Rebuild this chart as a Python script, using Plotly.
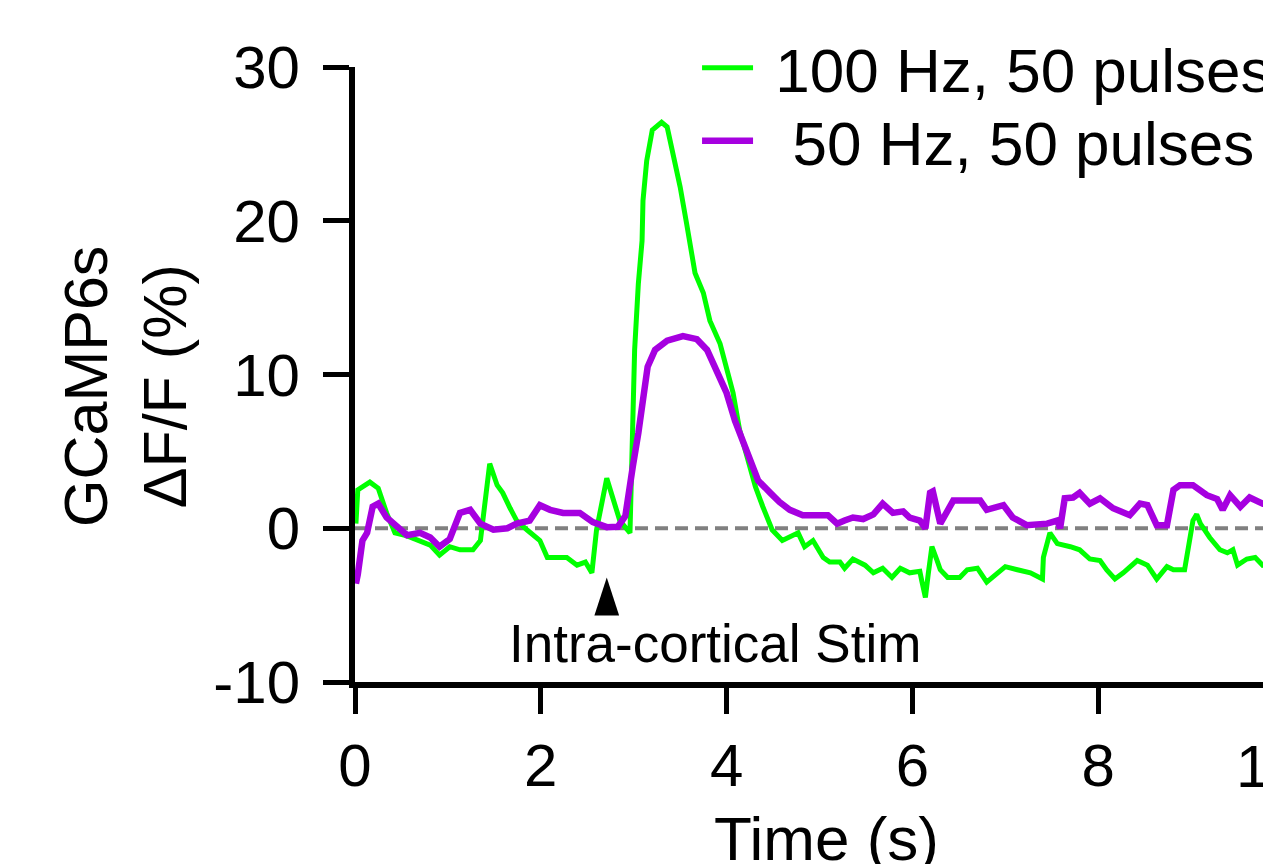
import plotly.graph_objects as go

# ---- data ----
time_100hz = [0.01, 0.03, 0.16, 0.25, 0.34, 0.43, 0.56, 0.70, 0.81, 0.91, 1.02, 1.13, 1.27, 1.35, 1.39,
              1.45, 1.53, 1.59, 1.67, 1.74, 1.85, 1.99, 2.07, 2.28, 2.39, 2.48, 2.55, 2.60, 2.71, 2.78,
              2.85, 2.96, 2.98, 2.99, 3.01, 3.05, 3.09, 3.10, 3.14, 3.20, 3.25, 3.30, 3.36, 3.42, 3.50,
              3.57, 3.63, 3.66, 3.75, 3.82, 3.93, 4.00, 4.07, 4.14, 4.22, 4.31, 4.39, 4.49, 4.60, 4.77,
              4.84, 4.93, 5.04, 5.11, 5.22, 5.27, 5.36, 5.49, 5.58, 5.68, 5.78, 5.87, 5.97, 6.08, 6.10,
              6.14, 6.17, 6.21, 6.26, 6.30, 6.38, 6.51, 6.59, 6.70, 6.80, 6.91, 7.00, 7.13, 7.27, 7.40,
              7.41, 7.48, 7.56, 7.70, 7.80, 7.91, 8.02, 8.09, 8.18, 8.27, 8.42, 8.53, 8.63, 8.74, 8.81,
              8.93, 8.97, 9.02, 9.06, 9.10, 9.20, 9.31, 9.39, 9.45, 9.50, 9.60, 9.69, 9.77, 9.85]
dff_100hz = [0.3, 2.5, 3.0, 2.6, 1.0, -0.3, -0.5, -0.8, -1.1, -1.75, -1.2, -1.4, -1.4, -0.8, 1.5,
             4.2, 2.8, 2.3, 1.3, 0.5, -0.1, -0.8, -1.9, -1.9, -2.4, -2.2, -2.9, -0.1, 3.25, 1.8,
             0.5, -0.3, 4.0, 8.3, 11.6, 15.9, 18.7, 21.3, 23.9, 25.9, 26.2, 26.4, 26.1, 24.4, 22.2,
             19.8, 17.9, 16.6, 15.3, 13.5, 12.0, 10.5, 8.8, 6.4, 4.6, 2.7, 1.4, -0.1, -0.8, -0.3,
             -1.2, -0.8, -1.9, -2.2, -2.2, -2.6, -2.0, -2.4, -2.9, -2.6, -3.2, -2.6, -2.9, -2.8, -3.4,
             -4.5, -3.0, -1.2, -2.0, -2.7, -3.2, -3.2, -2.7, -2.6, -3.5, -2.9, -2.5, -2.7, -2.9, -3.3,
             -1.9, -0.3, -1.0, -1.2, -1.4, -2.0, -2.1, -2.7, -3.3, -2.9, -2.1, -2.4, -3.3, -2.5, -2.7,
             -2.7, -1.2, 0.5, 0.9, 0.3, -0.6, -1.4, -1.6, -1.4, -2.4, -2.0, -1.9, -2.4, -2.3]

time_50hz = [0.01, 0.03, 0.08, 0.13, 0.19, 0.25, 0.34, 0.45, 0.56, 0.70, 0.81, 0.91, 1.02, 1.13, 1.24,
             1.35, 1.49, 1.64, 1.74, 1.88, 1.99, 2.10, 2.24, 2.42, 2.56, 2.71, 2.83, 2.91, 2.96, 2.99,
             3.05, 3.10, 3.15, 3.23, 3.36, 3.53, 3.68, 3.79, 3.90, 4.00, 4.09, 4.18, 4.25, 4.34, 4.47,
             4.57, 4.68, 4.82, 5.09, 5.19, 5.27, 5.36, 5.47, 5.58, 5.68, 5.79, 5.90, 5.97, 6.08, 6.14,
             6.19, 6.22, 6.30, 6.44, 6.73, 6.80, 6.98, 7.08, 7.23, 7.45, 7.56, 7.59, 7.64, 7.73, 7.80,
             7.91, 8.02, 8.16, 8.34, 8.45, 8.53, 8.63, 8.74, 8.81, 8.88, 9.02, 9.17, 9.28, 9.34, 9.42,
             9.53, 9.63, 9.77, 9.85]
dff_50hz = [-3.6, -3.0, -0.8, -0.3, 1.4, 1.6, 0.7, 0.07, -0.45, -0.3, -0.6, -1.2, -0.7, 1.0, 1.2,
            0.3, -0.1, 0.0, 0.3, 0.5, 1.5, 1.2, 1.0, 1.0, 0.4, 0.07, 0.1, 0.8, 2.5, 4.0,
            6.2, 8.3, 10.5, 11.6, 12.2, 12.5, 12.3, 11.6, 10.1, 8.8, 7.0, 5.5, 4.4, 3.1, 2.3,
            1.7, 1.2, 0.85, 0.85, 0.3, 0.5, 0.7, 0.6, 0.9, 1.6, 1.0, 1.1, 0.7, 0.5, 0.0,
            2.3, 2.4, 0.3, 1.8, 1.8, 1.2, 1.5, 0.7, 0.2, 0.3, 0.5, 0.0, 1.95, 2.0, 2.3,
            1.6, 1.95, 1.3, 0.85, 1.6, 1.5, 0.2, 0.2, 2.5, 2.8, 2.8, 2.15, 1.9, 1.2, 2.15,
            1.4, 2.0, 1.6, 1.7]

x_ticks = [0, 2, 4, 6, 8]
y_ticks = [-10, 0, 10, 20, 30]
series_names = ["\u00a0100 Hz, 50 pulses", "\u00a0\u00a050 Hz, 50 pulses"]
stim_time = 2.71
stim_tip_y = -3.2
stim_label = "Intra-cortical Stim"

FONT = "Liberation Sans, Arial, Helvetica, sans-serif"
GREEN = "#00FF00"
PURPLE = "#A600E0"

fig = go.Figure()
fig.add_trace(go.Scatter(x=time_100hz, y=dff_100hz, mode="lines", name=series_names[0],
                         line=dict(color=GREEN, width=5), legend="legend"))
fig.add_trace(go.Scatter(x=time_50hz, y=dff_50hz, mode="lines", name=series_names[1],
                         line=dict(color=PURPLE, width=6.5), legend="legend2"))
fig.add_trace(go.Scatter(x=[stim_time], y=[stim_tip_y], mode="markers", showlegend=False,
                         marker=dict(symbol="arrow", size=40, angle=0, color="black",
                                     line=dict(width=0))))

fig.add_shape(type="line", xref="paper", x0=0, x1=1, yref="y", y0=0, y1=0,
              line=dict(color="#808080", width=4, dash="13px,7px"), layer="below")

fig.add_annotation(x=3.875, y=-7.51, xref="x", yref="y", text=stim_label, showarrow=False,
                   font=dict(family=FONT, size=53, color="black"), yanchor="middle")
fig.add_annotation(x=1.0077, y=-0.1382, xref="paper", yref="paper", text="10", showarrow=False,
                   font=dict(family=FONT, size=60, color="black"), xanchor="center", yanchor="middle")
fig.add_annotation(x=0.5198, y=-0.2537, xref="paper", yref="paper", text="Time (s)", showarrow=False,
                   font=dict(family=FONT, size=62, color="black"), xanchor="center", yanchor="middle")
fig.add_annotation(x=-0.2522, y=0.4797, xref="paper", yref="paper", text="GCaMP6s<br>ΔF/F (%)",
                   showarrow=False, textangle=-90,
                   font=dict(family=FONT, size=61, color="black"), xanchor="center", yanchor="middle")

legend_style = dict(xanchor="left", yanchor="top", bgcolor="rgba(0,0,0,0)",
                    font=dict(family=FONT, size=62, color="black"), itemwidth=51)

fig.update_layout(
    width=1263, height=864,
    margin=dict(l=355, r=0, t=67, b=182, autoexpand=False),
    paper_bgcolor="white", plot_bgcolor="white",
    font=dict(family=FONT, color="black"),
    showlegend=True,
    legend=dict(x=0.3767, y=1.0748, **legend_style),
    legend2=dict(x=0.3767, y=0.9561, **legend_style),
    xaxis=dict(range=[0, 9.774], tickvals=x_ticks, ticktext=[str(v) for v in x_ticks],
               showline=True, linecolor="black", linewidth=6, ticks="outside", ticklen=26,
               tickwidth=5, tickcolor="black", showgrid=False, zeroline=False,
               tickfont=dict(family=FONT, size=60, color="black"), ticklabelstandoff=0,
               automargin=False),
    yaxis=dict(range=[-10, 30], tickvals=y_ticks, ticktext=[str(v) for v in y_ticks],
               showline=True, linecolor="black", linewidth=6, ticks="outside", ticklen=26,
               tickwidth=5, tickcolor="black", showgrid=False, zeroline=False,
               tickfont=dict(family=FONT, size=60, color="black"), ticklabelstandoff=11,
               automargin=False),
)

# remove the default page margin so the 1263x864 figure fills the window exactly
fig.write_html("out.html", config={"displayModeBar": False},
               post_script="document.body.style.margin='0';document.body.style.overflow='hidden';")
